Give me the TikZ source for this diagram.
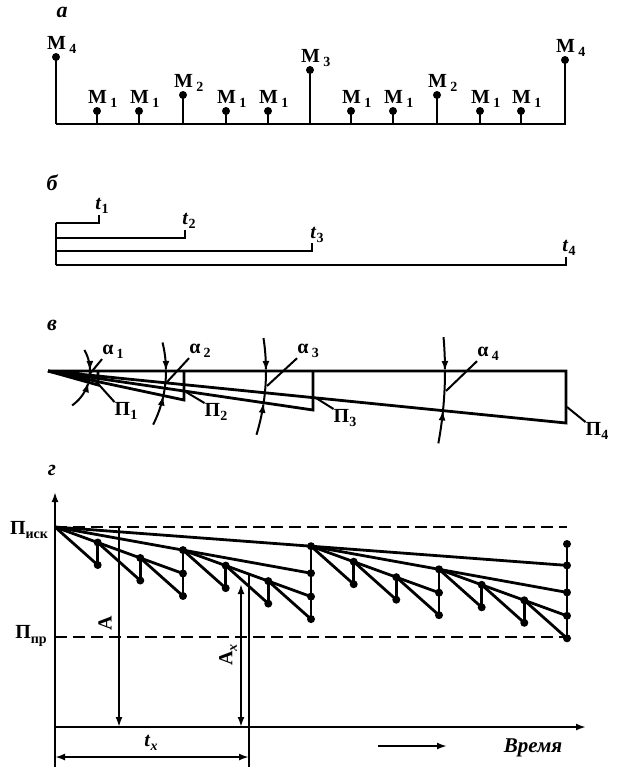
\documentclass[tikz,border=0pt]{standalone}
\usepackage{fontspec}
\setmainfont{Liberation Serif}
\usetikzlibrary{arrows.meta}
\newcommand{\sbs}[1]{\raisebox{-0.22em}{\fontsize{14}{14}\selectfont #1}}
\begin{document}
\begin{tikzpicture}[x=1pt,y=-1pt,
  ln/.style={line width=2.8pt},
  thn/.style={line width=2pt},
  dsh/.style={line width=2.4pt, dash pattern=on 12pt off 6pt},
  ar/.style={-{Latex[length=10pt,width=7pt]}},
  dar/.style={{Latex[length=10pt,width=7pt]}-{Latex[length=10pt,width=7pt]}},
  lab/.style={font=\bfseries\fontsize{20}{20}\selectfont, inner sep=0pt},
  sec/.style={font=\bfseries\itshape\fontsize{22}{22}\selectfont, inner sep=0pt},
  dotc/.style={circle, fill, inner sep=0pt, minimum size=8pt},
]
\useasboundingbox (0,0) rectangle (617,774);

% ---------- a ----------
\node[sec] (la) at (62,12) {а};
\draw[ln] (56,124) coordinate (abl) -- (566,124) coordinate (abr);
\foreach \i/\x/\y/\k in {0/56/57/4, 1/97/111/1, 2/139/111/1, 3/183/95/2, 4/226/111/1, 5/268/111/1, 6/310/70/3, 7/351/111/1, 8/393/111/1, 9/437/95/2, 10/480/111/1, 11/521/111/1, 12/565/60/4}{
  \node[dotc] (ma\i) at (\x,\y) {};
  \coordinate (mb\i) at (\x,124);
  \draw[ln] (mb\i) -- (ma\i.center);
  \node[lab, anchor=base west] (ml\i) at (\x-9,\y-8) {M\,\sbs{\k}};
}

% ---------- b ----------
\node[sec] (lb) at (52,183) {б};
\coordinate (b0) at (56,223);
\coordinate (b4) at (56,265);
\draw[ln] (b0) -- (b4);
\foreach \i/\y/\x in {1/223/99, 2/238/185, 3/251/312, 4/265/566}{
  \coordinate (bs\i) at (56,\y);
  \coordinate (be\i) at (\x,\y);
  \coordinate (bt\i) at (\x,\y-8);
  \draw[ln] (bs\i) -- (be\i) -- (bt\i);
}
\node[lab] (t1) at (102,206) {\textit{t}\sbs{1}};
\node[lab] (t2) at (189,221) {\textit{t}\sbs{2}};
\node[lab] (t3) at (317,235) {\textit{t}\sbs{3}};
\node[lab] (t4) at (569,248) {\textit{t}\sbs{4}};

% ---------- v ----------
\node[sec] (lv) at (52,325) {в};
\coordinate (ap) at (48,371);
\coordinate (q4) at (566,371); \coordinate (p4) at (566,423);
\coordinate (q3) at (313,371); \coordinate (p3) at (313,410);
\coordinate (q2) at (184,371); \coordinate (p2) at (184,400);
\coordinate (q1) at (98,371);  \coordinate (p1) at (98,385);
\draw[ln] (ap) -- (q4) -- (p4) -- (ap);
\draw[ln] (q3) -- (p3) -- (ap);
\draw[ln] (q2) -- (p2) -- (ap);
\draw[ln] (q1) -- (p1) -- (ap);
% angle arcs centred at apex
\foreach \R/\ta/\tb/\tp in {42/-30/55/15.6, 118/-14/27/12.0, 218/-8.7/17/8.4, 397/-4.9/10.5/5.7}{
  \draw[thn, ar] plot[domain=\ta:0, samples=20] ({48+\R*cos(\x)},{371+\R*sin(\x)});
  \draw[thn, ar] plot[domain=\tb:\tp, samples=20] ({48+\R*cos(\x)},{371+\R*sin(\x)});
  \draw[thn] plot[domain=0:\tp, samples=10] ({48+\R*cos(\x)},{371+\R*sin(\x)});
}
\node[lab] (al1) at (113,352) {α\,\sbs{1}};
\node[lab] (al2) at (200,351) {α\,\sbs{2}};
\node[lab] (al3) at (308,351) {α\,\sbs{3}};
\node[lab] (al4) at (488,354) {α\,\sbs{4}};
\draw[thn] (al1.south west) -- (88,376);
\draw[thn] (al2.south west) -- (167,382);
\draw[thn] (al3.south west) -- (267,386);
\draw[thn] (al4.south west) -- (446,391);
\node[lab] (pi1) at (126,411) {П\sbs{1}};
\node[lab] (pi2) at (216,412) {П\sbs{2}};
\node[lab] (pi3) at (345,418) {П\sbs{3}};
\node[lab] (pi4) at (597,431) {П\sbs{4}};
\draw[thn] (pi1.north west) -- (92,377);
\draw[thn] (pi2.north west) -- (186,392);
\draw[thn] (pi3.north west) -- (316,398);
\draw[thn] (pi4.north west) -- (567,407);

% ---------- g ----------
\node[sec] (lg) at (52,470) {г};
\coordinate (o) at (55,727);
\coordinate (ytop) at (55,492);
\coordinate (ybot) at (55,767);
\coordinate (xend) at (586,727);
\draw[ln, ar] (ybot) -- (ytop);
\draw[ln, ar] (o) -- (xend);
\node[lab] (pisk) at (29,530) {П\sbs{иск}};
\node[lab] (ppr) at (31,636) {П\sbs{пр}};
\coordinate (d1a) at (55,527); \coordinate (d1b) at (567,527);
\coordinate (d2a) at (55,637); \coordinate (d2b) at (567,637);
\draw[dsh] (d1a) -- (d1b);
\draw[dsh] (d2a) -- (d2b);

% restart points r, steep ends s
\foreach \n/\x/\y in {r0/55/527, r1/97.7/542.5, r2/140.3/558, r3/183/550.1, r4/225.7/565.6, r5/268.3/581.1, r6/311/546.2, r7/353.7/561.7, r8/396.3/577.2, r9/439/569.3, r10/481.7/584.8, r11/524.3/600.3,
  s1/97.7/565, s2/140.3/580.5, s3/183/596, s4/225.7/588.1, s5/268.3/603.6, s6/311/619.1, s7/353.7/584.2, s8/396.3/599.7, s9/439/615.2, s10/481.7/607.3, s11/524.3/622.8, s12/567/638.3,
  e3/183/573.5, e6/311/596.6, b6/311/573.2, e9/439/592.7, e12/567/615.8, b12/567/592.4, a12/567/565.4, top12/567/544}
  {\coordinate (\n) at (\x,\y);}
% envelopes
\draw[ln] (r0) -- (a12);
\draw[ln] (r0) -- (b6);
\draw[ln] (r6) -- (b12);
\draw[ln] (r0) -- (e3);
\draw[ln] (r3) -- (e6);
\draw[ln] (r6) -- (e9);
\draw[ln] (r9) -- (e12);
% sawtooth
\foreach \k [evaluate=\k as \kk using int(\k+1)] in {0,...,11}{
  \draw[ln] (r\k) -- (s\kk);
}
\foreach \k in {1,...,11}{
  \draw[ln] (s\k) -- (r\k);
}
\draw[ln] (s12) -- (top12);
% dots
\foreach \n in {r1,r2,r3,r4,r5,r6,r7,r8,r9,r10,r11,s1,s2,s3,s4,s5,s6,s7,s8,s9,s10,s11,s12,e3,e6,b6,e9,e12,b12,a12,top12}
  {\node[dotc] at (\n) {};}

% dimension arrows
\coordinate (aT) at (119,527); \coordinate (aB) at (119,727);
\draw[thn, ar] (aT) -- (aB);
\node[lab, rotate=90] (lA) at (105,623) {A};
\coordinate (axT) at (241,584); \coordinate (axB) at (241,727);
\draw[thn, dar] (axT) -- (axB);
\node[lab, rotate=90] (lAx) at (228,655) {A\sbs{\textit{x}}};
\coordinate (txT) at (249,574); \coordinate (txB) at (249,767);
\draw[ln] (txT) -- (txB);
\coordinate (tdL) at (55,757); \coordinate (tdR) at (249,757);
\draw[thn, dar] (tdL) -- (tdR);
\node[lab] (ltx) at (151,743) {\textit{t}\sbs{\textit{x}}};
\coordinate (vA) at (378,746); \coordinate (vB) at (447,746);
\draw[thn, ar] (vA) -- (vB);
\node[lab, font=\bfseries\itshape\fontsize{21}{21}\selectfont] (vr) at (533,748) {Время};
\end{tikzpicture}
\end{document}
